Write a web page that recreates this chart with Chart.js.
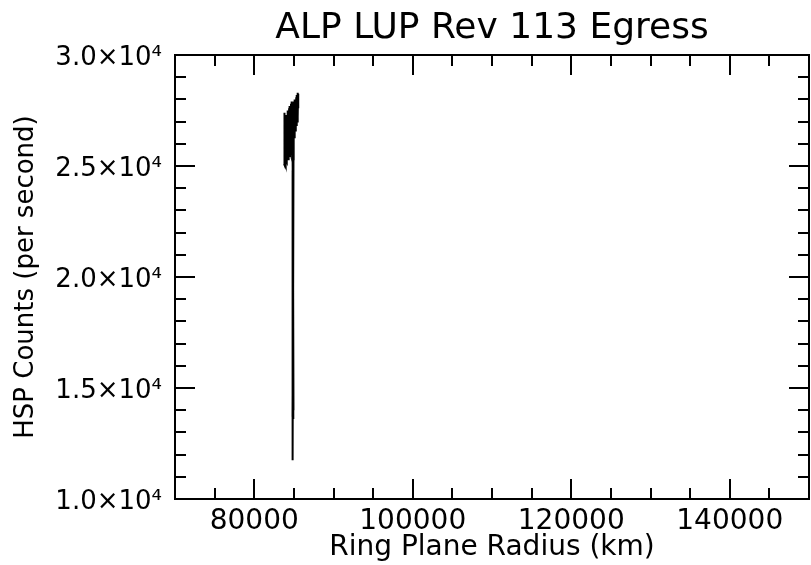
<!DOCTYPE html>
<html>
<head>
<meta charset="utf-8">
<script src="https://cdn.jsdelivr.net/npm/chart.js@4.4.1/dist/chart.umd.min.js"></script>
<style>
  html, body { margin: 0; padding: 0; background: #ffffff; }
  #wrap { width: 811px; height: 565px; }
</style>
</head>
<body>
<div id="wrap"><canvas id="c" width="811" height="565"></canvas></div>
<script>
// ---- data ----
const chartTitle = 'ALP LUP Rev 113 Egress';
const xAxisTitle = 'Ring Plane Radius (km)';
const yAxisTitle = 'HSP Counts (per second)';

const radiusKm = [
  83760, 83770, 83790, 83810, 83840, 83870, 83900, 83930, 83960, 84000,
  84040, 84080, 84120, 84160, 84200, 84240, 84280, 84320, 84360, 84400,
  84440, 84480, 84520, 84560, 84600, 84640, 84680, 84720, 84760, 84800,
  84840, 84860, 84880, 84900, 84840, 84930, 84860, 84950, 84870, 84840,
  84900, 84830, 84940, 84880, 84950, 84960, 84990, 85020, 85060, 85100,
  85140, 85180, 85220, 85260, 85300, 85340, 85380, 85420, 85460, 85500,
  85530, 85550
];
const hspCounts = [
  25100, 27400, 25050, 26900, 25150, 27100, 25200, 26900, 25100, 27300,
  25250, 27200, 25200, 27300, 25400, 27500, 25300, 27400, 25500, 27600,
  25400, 27700, 25700, 27700, 25600, 27800, 25900, 27900, 25500, 27800,
  25800, 25100, 24300, 18000, 24800, 13600, 22000, 14000, 24600, 11750,
  20500, 13700, 24900, 15500, 25300, 26200, 27900, 26300, 27900, 26400,
  28000, 26600, 28000, 26900, 28100, 26800, 28200, 27000, 28300, 27200,
  28250, 27600
];

const xTickValues = [80000, 100000, 120000, 140000];
const xTickLabels = ['80000', '100000', '120000', '140000'];
const yTickValues = [10000, 15000, 20000, 25000, 30000];
const yTickLabels = ['1.0×10⁴', '1.5×10⁴', '2.0×10⁴', '2.5×10⁴', '3.0×10⁴'];

const xMin = 70000, xMax = 150000, xMinorStep = 5000, xMajorStep = 20000;
const yMin = 10000, yMax = 30000, yMinorStep = 1000, yMajorStep = 5000;

const points = radiusKm.map((r, i) => ({ x: r, y: hspCounts[i] }));

// title centred over the plot area, inward ticks on all four sides + frame
const frameTicks = {
  id: 'frameTicks',
  afterDraw(chart) {
    const { ctx, chartArea: a, scales } = chart;
    const xs = scales.x, ys = scales.y;
    ctx.save();
    ctx.fillStyle = '#000';
    ctx.font = '36px "DejaVu Sans", sans-serif';
    ctx.textAlign = 'center';
    ctx.textBaseline = 'alphabetic';
    ctx.fillText(chartTitle, (a.left + a.right) / 2, 38);

    ctx.strokeStyle = '#000';
    ctx.lineWidth = 2;
    ctx.lineCap = 'butt';
    ctx.strokeRect(a.left, a.top, a.right - a.left, a.bottom - a.top);
    const major = 20, minor = 11;
    ctx.beginPath();
    for (let v = xMin; v <= xMax; v += xMinorStep) {
      const px = Math.round(xs.getPixelForValue(v));
      const len = (v % xMajorStep === 0) ? major : minor;
      ctx.moveTo(px, a.bottom); ctx.lineTo(px, a.bottom - len);
      ctx.moveTo(px, a.top); ctx.lineTo(px, a.top + len);
    }
    for (let v = yMin; v <= yMax; v += yMinorStep) {
      const py = Math.round(ys.getPixelForValue(v));
      const len = (v % yMajorStep === 0) ? major : minor;
      ctx.moveTo(a.left, py); ctx.lineTo(a.left + len, py);
      ctx.moveTo(a.right, py); ctx.lineTo(a.right - len, py);
    }
    ctx.stroke();
    ctx.restore();
  }
};

Chart.defaults.font.family = '"DejaVu Sans", sans-serif';
Chart.defaults.color = '#000';

new Chart(document.getElementById('c'), {
  type: 'line',
  data: {
    datasets: [{
      data: points,
      borderColor: '#000',
      borderWidth: 2,
      pointRadius: 0,
      tension: 0,
      fill: false
    }]
  },
  options: {
    responsive: false,
    animation: false,
    devicePixelRatio: 1,
    layout: { padding: { left: 0, right: 2, top: 55, bottom: 0 } },
    plugins: {
      legend: { display: false },
      tooltip: { enabled: false },
      title: { display: false }
    },
    scales: {
      x: {
        type: 'linear',
        min: xMin, max: xMax,
        afterBuildTicks(s) { s.ticks = xTickValues.map(v => ({ value: v })); },
        afterFit(s) { s.height = 66; },
        grid: { display: false, drawTicks: false },
        border: { display: false },
        ticks: {
          padding: 6,
          maxRotation: 0,
          autoSkip: false,
          font: { size: 28 },
          color: '#000',
          callback: (v) => xTickLabels[xTickValues.indexOf(v)]
        },
        title: {
          display: true,
          text: xAxisTitle,
          color: '#000',
          font: { size: 28 },
          padding: { top: 0, bottom: 0 }
        }
      },
      y: {
        type: 'linear',
        min: yMin, max: yMax,
        afterBuildTicks(s) { s.ticks = yTickValues.map(v => ({ value: v })); },
        afterFit(s) { s.width = 175; },
        grid: { display: false, drawTicks: false },
        border: { display: false },
        ticks: {
          padding: 13,
          labelOffset: 3,
          autoSkip: false,
          font: { size: 26 },
          color: '#000',
          callback: (v) => yTickLabels[yTickValues.indexOf(v)]
        },
        title: {
          display: true,
          text: yAxisTitle,
          color: '#000',
          font: { size: 26 },
          padding: { top: 11, bottom: 0 }
        }
      }
    }
  },
  plugins: [frameTicks]
});
</script>
</body>
</html>
